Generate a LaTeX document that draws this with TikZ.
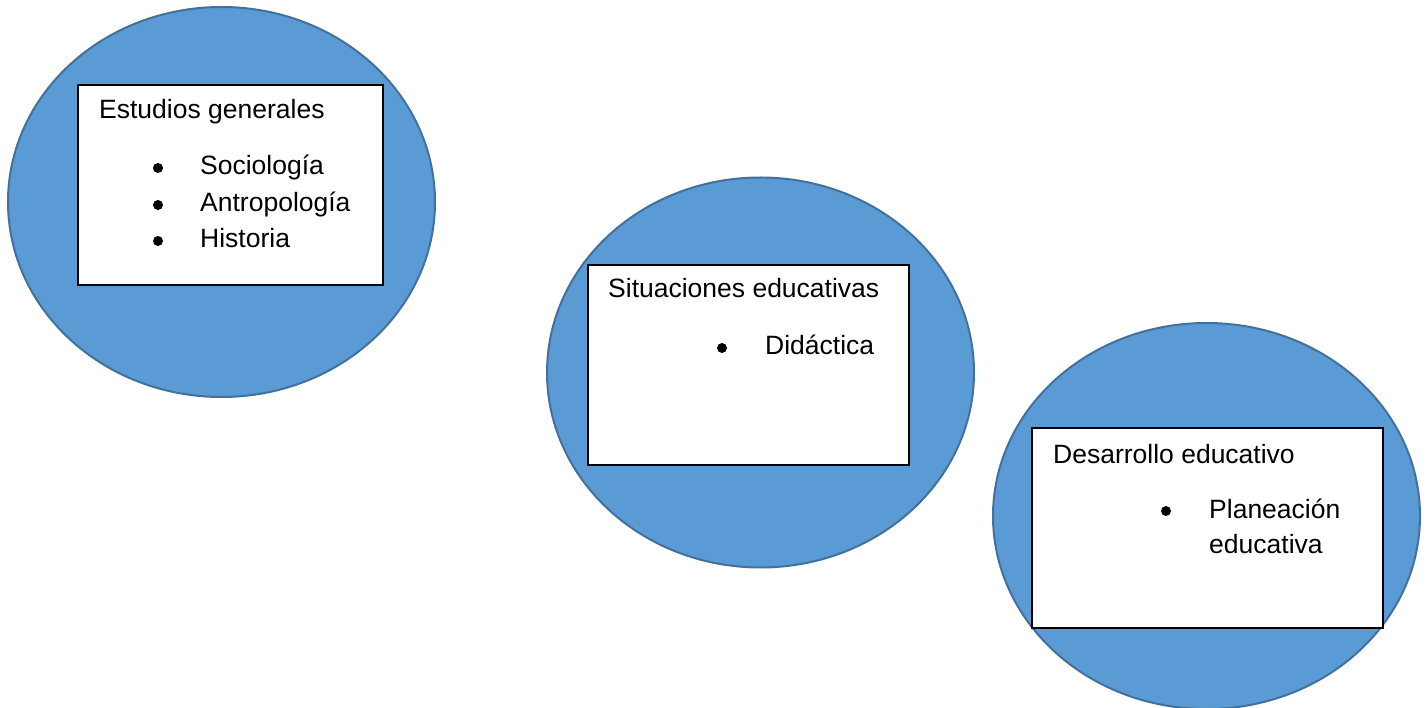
\documentclass[tikz,border=0pt]{standalone}
\usepackage{fontspec}
\setmainfont{Liberation Sans}
\usetikzlibrary{shapes.geometric}
\definecolor{blobfill}{HTML}{5B9BD5}
\definecolor{blobline}{HTML}{41719C}
\tikzset{
    blob/.style={ellipse, draw=blobline, fill=blobfill, line width=2pt, inner sep=0pt,
        minimum width=427pt, minimum height=390pt},
    card/.style={draw=black, fill=white, line width=1.2pt, inner sep=0pt, minimum height=200pt},
    txt/.style={anchor=base west, inner sep=0pt, font=\fontsize{26.5}{32}\selectfont},
    dot/.style={circle, fill=black, inner sep=0pt, minimum size=10pt},
}
\begin{document}
\begin{tikzpicture}[x=1pt, y=-1pt]
        \useasboundingbox (0,0) rectangle (1427,708);
        % estudios generales
        \node[blob] (blobA) at (221.5,202) {};
        \node[card, minimum width=305pt] (cardA) at (230.5,185) {};
        \node[txt] (headA) at (99,119) {Estudios generales};
        \node[dot] (dotA1) at (158,168) {};
        \node[txt] (itemA1) at (200,175) {Sociología};
        \node[dot] (dotA2) at (158,205) {};
        \node[txt] (itemA2) at (200,212) {Antropología};
        \node[dot] (dotA3) at (158,241) {};
        \node[txt] (itemA3) at (200,248) {Historia};
        % situaciones educativas
        \node[blob] (blobB) at (760.5,372.5) {};
        \node[card, minimum width=321pt] (cardB) at (748.5,365) {};
        \node[txt] (headB) at (608,298) {Situaciones educativas};
        \node[dot] (dotB1) at (722,348) {};
        \node[txt] (itemB1) at (765,355) {Didáctica};
        % desarrollo educativo
        \node[blob, minimum height=386pt] (blobC) at (1206.5,516) {};
        \node[card, minimum width=351pt] (cardC) at (1207.5,528) {};
        \node[txt] (headC) at (1053,463) {Desarrollo educativo};
        \node[dot] (dotC1) at (1166,511) {};
        \node[txt] (itemC1) at (1209,518) {Planeación};
        \node[txt] (itemC2) at (1209,553) {educativa};
    \end{tikzpicture}
\end{document}
